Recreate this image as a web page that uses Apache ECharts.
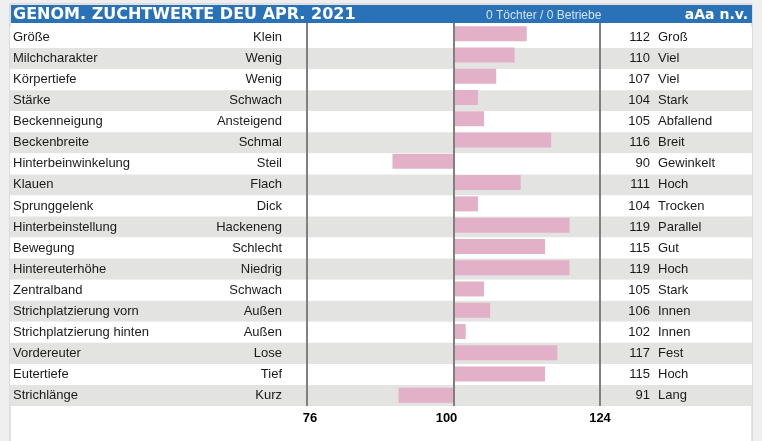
<!DOCTYPE html>
<html>
<head>
<meta charset="utf-8">
<script src="https://cdn.jsdelivr.net/npm/echarts@6/dist/echarts.min.js"></script>
<style>
  html, body { margin: 0; padding: 0; background: #efefef; }
  #chart { width: 762px; height: 441px; }
</style>
</head>
<body>
<div id="chart"></div>
<script>
// merkmale, links/rechts beschriftung und zuchtwerte
const traits = ['Größe', 'Milchcharakter', 'Körpertiefe', 'Stärke', 'Beckenneigung', 'Beckenbreite',
  'Hinterbeinwinkelung', 'Klauen', 'Sprunggelenk', 'Hinterbeinstellung', 'Bewegung', 'Hintereuterhöhe',
  'Zentralband', 'Strichplatzierung vorn', 'Strichplatzierung hinten', 'Vordereuter', 'Eutertiefe', 'Strichlänge']
const lowLabels = ['Klein', 'Wenig', 'Wenig', 'Schwach', 'Ansteigend', 'Schmal', 'Steil', 'Flach', 'Dick',
  'Hackeneng', 'Schlecht', 'Niedrig', 'Schwach', 'Außen', 'Außen', 'Lose', 'Tief', 'Kurz']
const highLabels = ['Groß', 'Viel', 'Viel', 'Stark', 'Abfallend', 'Breit', 'Gewinkelt', 'Hoch', 'Trocken',
  'Parallel', 'Gut', 'Hoch', 'Stark', 'Innen', 'Innen', 'Fest', 'Hoch', 'Lang']
const values = [112, 110, 107, 104, 105, 116, 90, 111, 104, 119, 115, 119, 105, 106, 102, 117, 115, 91]
const axisTicks = [76, 100, 124]

const chart = echarts.init(document.getElementById('chart'))
const font = 'Liberation Sans, Arial, sans-serif'

chart.setOption({
  animation: false,
  backgroundColor: '#efefef',
  graphic: [
    { type: 'rect', z: -10, shape: { x: 10, y: 4, width: 742, height: 440 },
      style: { fill: '#ffffff', stroke: '#c8c8c8', lineWidth: 1 } },
    { type: 'rect', z: -9, shape: { x: 11, y: 5, width: 741, height: 18 },
      style: { fill: '#2a72b8' } }
  ],
  title: [
    { text: 'GENOM. ZUCHTWERTE DEU APR. 2021', left: 13, top: 6, padding: 0,
      textStyle: { color: '#fff', fontSize: 16, fontWeight: 'bold', fontFamily: 'DejaVu Sans', lineHeight: 18 } },
    { text: '0 Töchter / 0 Betriebe', left: 486, top: 8, padding: 0,
      textStyle: { color: '#d4e3f2', fontSize: 12, fontWeight: 'normal', fontFamily: font, lineHeight: 16 } },
    { text: 'aAa n.v.', right: 14, top: 6, padding: 0,
      textStyle: { color: '#fff', fontSize: 14, fontWeight: 'bold', fontFamily: 'DejaVu Sans', lineHeight: 18 } }
  ],
  grid: [
    { left: 10, right: 10, top: 27, bottom: 35 },
    { left: 307, right: 162, top: 23, bottom: 35 }
  ],
  xAxis: [
    { gridIndex: 0, type: 'value', show: false, min: 0, max: 1 },
    { gridIndex: 1, type: 'value', min: -24, max: 24, interval: 24, z: 5,
      axisLine: { show: false }, axisTick: { show: false },
      splitLine: { show: true, lineStyle: { color: '#808080', width: 2 } },
      axisLabel: {
        margin: 6,
        formatter: v => {
          const t = v + 100
          if (t === axisTicks[0]) return '{l|' + t + '}'
          if (t === axisTicks[1]) return '{m|' + t + '}'
          return '{r|' + t + '}'
        },
        rich: {
          l: { fontFamily: font, fontWeight: 'bold', fontSize: 13, color: '#000', padding: [0, 0, 0, 6] },
          m: { fontFamily: font, fontWeight: 'bold', fontSize: 13, color: '#000', padding: [0, 14, 0, 0] },
          r: { fontFamily: font, fontWeight: 'bold', fontSize: 13, color: '#000' }
        }
      }
    }
  ],
  yAxis: [
    // merkmalnamen links, mit zeilenstreifen
    { gridIndex: 0, type: 'category', data: traits, inverse: true, position: 'left', z: 0,
      axisLine: { show: false }, axisTick: { show: false },
      splitArea: { show: true, areaStyle: { color: ['#ffffff', '#e3e3e1'] } },
      axisLabel: { inside: true, margin: 3, color: '#1a1a1a', fontSize: 13, fontFamily: font } },
    // niedrig-beschriftung
    { gridIndex: 0, type: 'category', data: lowLabels, inverse: true, position: 'left', offset: -274,
      axisLine: { show: false }, axisTick: { show: false },
      axisLabel: { margin: 2, color: '#1a1a1a', fontSize: 13, fontFamily: font } },
    // wert
    { gridIndex: 0, type: 'category', data: values.map(String), inverse: true, position: 'right', offset: -100,
      axisLine: { show: false }, axisTick: { show: false },
      axisLabel: { inside: true, margin: 2, color: '#1a1a1a', fontSize: 13, fontFamily: font } },
    // hoch-beschriftung
    { gridIndex: 0, type: 'category', data: highLabels, inverse: true, position: 'right', offset: -96,
      axisLine: { show: false }, axisTick: { show: false },
      axisLabel: { margin: 2, color: '#1a1a1a', fontSize: 13, fontFamily: font } },
    // balken
    { gridIndex: 1, type: 'category', data: traits, inverse: true, show: false }
  ],
  series: [
    {
      type: 'bar',
      xAxisIndex: 1,
      yAxisIndex: 4,
      barWidth: 15,
      z: 3,
      itemStyle: { color: '#e2b0c7' },
      data: values.map(v => v - 100)
    }
  ]
})
</script>
</body>
</html>
